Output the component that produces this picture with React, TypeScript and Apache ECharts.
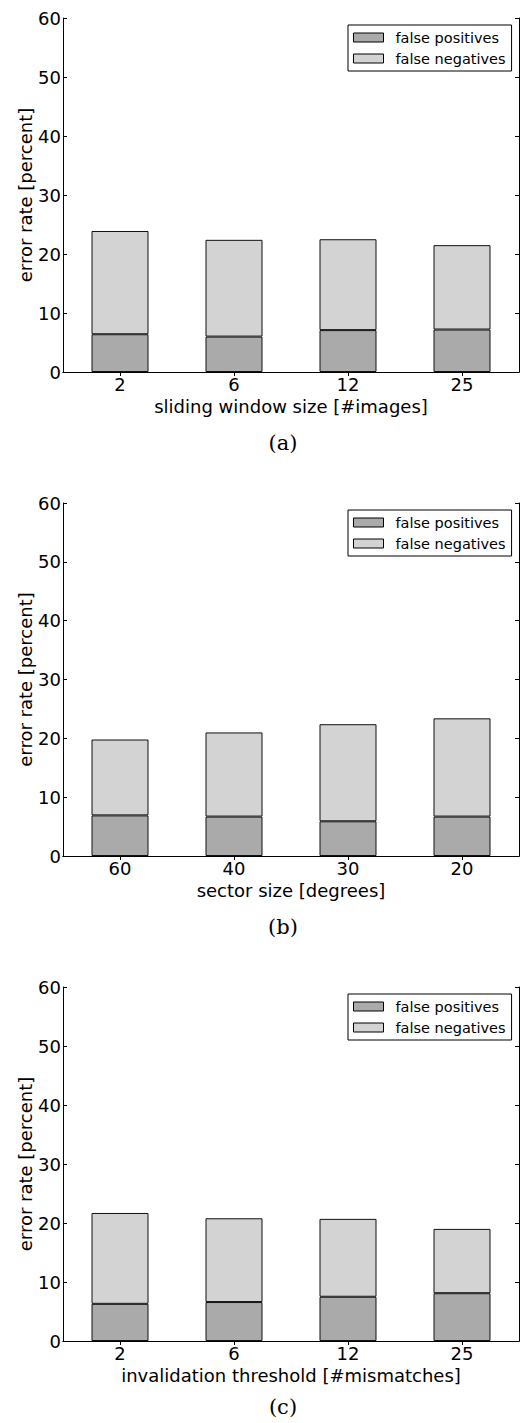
import React, { useEffect, useRef } from "react";
import * as echarts from "echarts";

const catsA = ["2", "6", "12", "25"];
const fpA = [6.4, 6.0, 7.1, 7.2];
const fnA = [17.5, 16.4, 15.4, 14.3];

const catsB = ["60", "40", "30", "20"];
const fpB = [6.9, 6.7, 5.9, 6.7];
const fnB = [12.9, 14.3, 16.5, 16.7];

const catsC = ["2", "6", "12", "25"];
const fpC = [6.3, 6.6, 7.5, 8.1];
const fnC = [15.4, 14.2, 13.2, 10.9];

const xNames = [
  "sliding window size [#images]",
  "sector size [degrees]",
  "invalidation threshold [#mismatches]",
];
const captions = ["(a)", "(b)", "(c)"];
const yName = "error rate [percent]";
const seriesNames = ["false positives", "false negatives"];

const FP_COLOR = "#aaaaaa";
const FN_COLOR = "#d3d3d3";
const FONT = "DejaVu Sans";

const panels = [
  { cats: catsA, fp: fpA, fn: fnA, top: 18, height: 354, legendTop: 25, capY: 443 },
  { cats: catsB, fp: fpB, fn: fnB, top: 503, height: 353, legendTop: 510, capY: 927 },
  { cats: catsC, fp: fpC, fn: fnC, top: 987, height: 354, legendTop: 994, capY: 1407 },
];

export default function App() {
  const ref = useRef<HTMLDivElement>(null);
  useEffect(() => {
    if (!ref.current) return;
    const chart = echarts.init(ref.current, null, { renderer: "svg" });
    const grid: any[] = [];
    const xAxis: any[] = [];
    const yAxis: any[] = [];
    const series: any[] = [];
    const legend: any[] = [];
    const graphic: any[] = [];
    const lineStyle = { color: "#000", width: 1 };
    panels.forEach((p, i) => {
      grid.push({ left: 63, width: 456, top: p.top, height: p.height, containLabel: false });
      xAxis.push({
        type: "category",
        gridIndex: i,
        data: p.cats,
        position: "bottom",
        axisLine: { show: true, lineStyle },
        axisTick: { show: true, inside: true, alignWithLabel: true, length: 4, lineStyle },
        axisLabel: { color: "#000", fontSize: 18, fontFamily: FONT, margin: 3 },
        name: xNames[i],
        nameLocation: "middle",
        nameGap: 25,
        nameMoveOverlap: false,
        nameTextStyle: { color: "#000", fontSize: 18, fontFamily: FONT },
        splitLine: { show: false },
      });
      xAxis.push({
        type: "category",
        gridIndex: i,
        data: p.cats,
        position: "top",
        axisLine: { show: true, lineStyle },
        axisTick: { show: true, inside: true, alignWithLabel: true, length: 4, lineStyle },
        axisLabel: { show: false },
        splitLine: { show: false },
      });
      yAxis.push({
        type: "value",
        gridIndex: i,
        min: 0,
        max: 60,
        interval: 10,
        position: "left",
        axisLine: { show: true, lineStyle },
        axisTick: { show: true, inside: true, length: 4, lineStyle },
        axisLabel: { color: "#000", fontSize: 18, fontFamily: FONT, margin: 2 },
        splitLine: { show: false },
        name: yName,
        nameLocation: "middle",
        nameGap: 29,
        nameMoveOverlap: false,
        nameTextStyle: { color: "#000", fontSize: 18, fontFamily: FONT },
      });
      yAxis.push({
        type: "value",
        gridIndex: i,
        min: 0,
        max: 60,
        interval: 10,
        position: "right",
        axisLine: { show: true, lineStyle },
        axisTick: { show: true, inside: true, length: 4, lineStyle },
        axisLabel: { show: false },
        splitLine: { show: false },
      });
      series.push({
        type: "bar",
        name: seriesNames[0],
        xAxisIndex: i * 2,
        yAxisIndex: i * 2,
        stack: "s" + i,
        data: p.fp,
        barWidth: "50%",
        itemStyle: { color: FP_COLOR, borderColor: "#111", borderWidth: 1 },
      });
      series.push({
        type: "bar",
        name: seriesNames[1],
        xAxisIndex: i * 2,
        yAxisIndex: i * 2,
        stack: "s" + i,
        data: p.fn,
        barWidth: "50%",
        itemStyle: { color: FN_COLOR, borderColor: "#111", borderWidth: 1 },
      });
      legend.push({
        orient: "vertical",
        left: 348,
        top: p.legendTop,
        width: 165,
        padding: [5, 6, 5, 5],
        itemGap: 6,
        itemWidth: 30,
        itemHeight: 9,
        borderColor: "#000",
        borderWidth: 1,
        borderRadius: 0,
        backgroundColor: "#fff",
        selectedMode: false,
        icon: "rect",
        textStyle: { color: "#000", fontSize: 14.5, fontFamily: FONT, lineHeight: 14, padding: [0, 0, 0, 7] },
        data: [
          { name: seriesNames[0], itemStyle: { color: FP_COLOR, borderColor: "#000", borderWidth: 1 } },
          { name: seriesNames[1], itemStyle: { color: FN_COLOR, borderColor: "#000", borderWidth: 1 } },
        ],
      });
      graphic.push({
        type: "text",
        x: 283,
        y: p.capY,
        style: {
          text: captions[i],
          fill: "#000",
          font: "21px 'DejaVu Serif'",
          textAlign: "center",
          textVerticalAlign: "middle",
        },
      });
    });
    chart.setOption({
      animation: false,
      backgroundColor: "#fff",
      grid,
      xAxis,
      yAxis,
      series,
      legend,
      graphic,
    });
    return () => chart.dispose();
  }, []);
  return (
    <div
      ref={ref}
      style={{ position: "absolute", left: 0, top: 0, width: 523, height: 1423 }}
    />
  );
}
